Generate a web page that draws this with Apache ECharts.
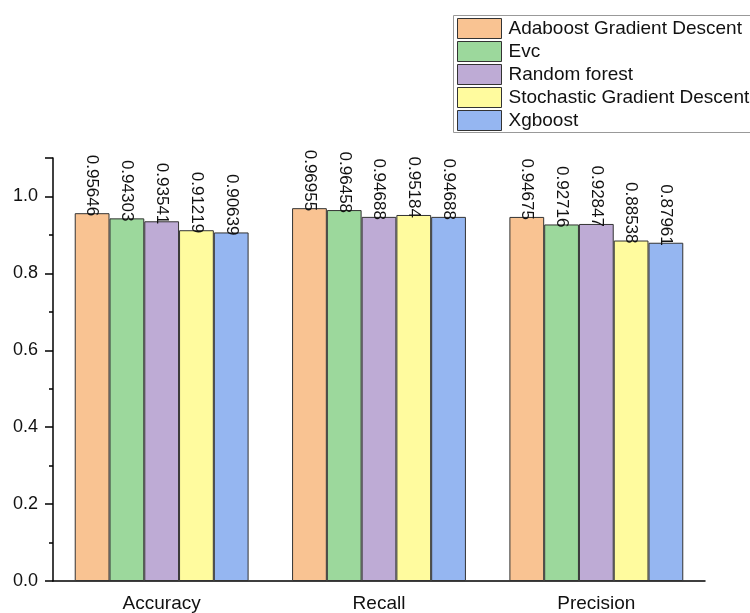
<!DOCTYPE html>
<html><head><meta charset="utf-8">
<script src="https://cdn.jsdelivr.net/npm/echarts@6/dist/echarts.min.js"></script>
<style>html,body{margin:0;padding:0;background:#fff}#c{width:750px;height:613px}</style>
</head><body><div id="c"></div>
<script>
const categories = ['Accuracy', 'Recall', 'Precision'];
const seriesNames = ['Adaboost Gradient Descent', 'Evc', 'Random forest', 'Stochastic Gradient Descent', 'Xgboost'];
const adaboost = [0.95646, 0.96955, 0.94675];
const evc = [0.94303, 0.96458, 0.92716];
const randomForest = [0.93541, 0.94688, 0.92847];
const sgd = [0.91219, 0.95184, 0.88538];
const xgboost = [0.90639, 0.94688, 0.87961];
const yTicks = [0.0, 0.2, 0.4, 0.6, 0.8, 1.0];
const colors = ['#F9C392', '#9CD89C', '#BEABD5', '#FFFB9E', '#95B6F1'];
const values = [adaboost, evc, randomForest, sgd, xgboost];

const font = 'Liberation Sans, Arial, sans-serif';
const chart = echarts.init(document.getElementById('c'), null, {renderer: 'canvas'});
chart.setOption({
  animation: false,
  backgroundColor: '#fff',
  grid: {left: 53, right: 45, top: 158, bottom: 32},
  graphic: [{
    type: 'rect', silent: true,
    shape: {x: 453.5, y: 15.5, width: 340, height: 117},
    style: {fill: 'none', stroke: '#999', lineWidth: 1}
  }],
  legend: {
    orient: 'vertical', left: 453, top: 15,
    itemWidth: 44, itemHeight: 20, itemGap: 2,
    padding: [3, 4, 3, 4],
    icon: 'rect',
    itemStyle: {borderColor: '#333', borderWidth: 1},
    textStyle: {fontFamily: font, fontSize: 19, color: '#111', padding: [0, 0, 0, 2]},
    data: seriesNames
  },
  xAxis: [{
    type: 'category', data: categories,
    axisLine: {lineStyle: {color: '#000', width: 1.5}},
    axisTick: {alignWithLabel: true, length: 7, lineStyle: {color: '#000', width: 1.5}},
    axisLabel: {fontFamily: font, fontSize: 19, color: '#111', margin: 13}
  }, {
    type: 'category', data: categories, position: 'bottom',
    axisLine: {show: false},
    axisTick: {inside: true, length: 5, lineStyle: {color: '#000', width: 1.5}},
    axisLabel: {show: false}
  }],
  yAxis: {
    type: 'value', min: 0, max: 1.1, interval: 0.2,
    axisLine: {show: true, lineStyle: {color: '#000', width: 1.5}},
    axisTick: {show: true, length: 8, lineStyle: {color: '#000', width: 1.5}},
    minorTick: {show: true, splitNumber: 2, length: 4, lineStyle: {color: '#000', width: 1.5}},
    splitLine: {show: false},
    axisLabel: {
      fontFamily: font, fontSize: 18, color: '#111', margin: 15,
      showMaxLabel: false,
      formatter: v => yTicks.some(t => Math.abs(t - v) < 1e-9) ? v.toFixed(1) : ''
    }
  },
  series: seriesNames.map((name, i) => ({
    name, type: 'bar', data: values[i],
    barGap: 0, barCategoryGap: '20%',
    itemStyle: {color: colors[i], borderColor: '#333', borderWidth: 1},
    label: {
      show: true, position: 'top', rotate: -90, align: 'right', verticalAlign: 'middle',
      distance: -3, fontFamily: font, fontSize: 17, color: '#111',
      formatter: p => String(p.value)
    }
  }))
});
</script></body></html>
